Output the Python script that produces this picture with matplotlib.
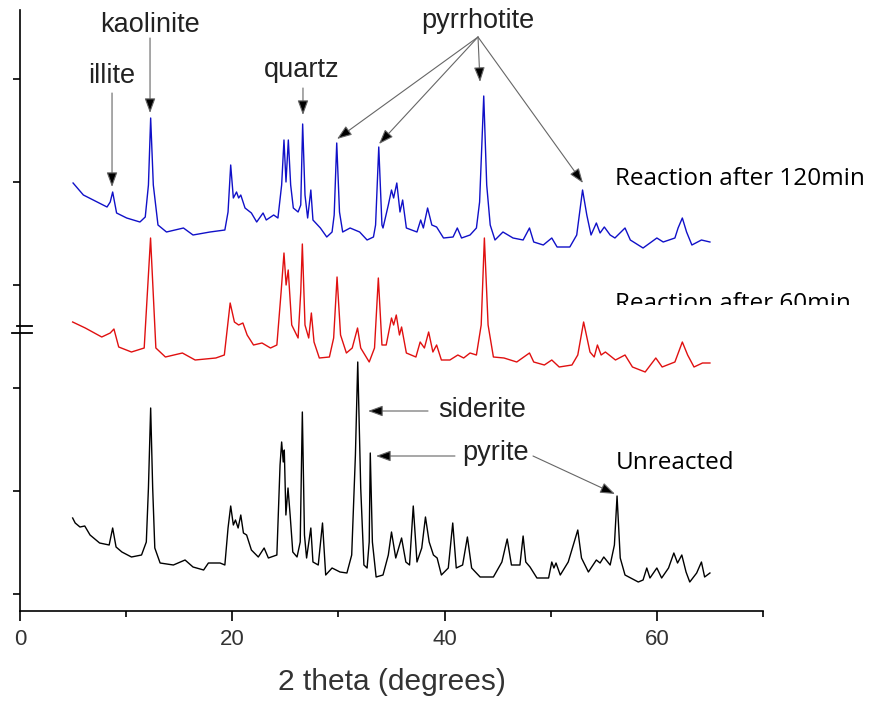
import matplotlib
matplotlib.use("Agg")
import matplotlib.pyplot as plt
from matplotlib.patches import ArrowStyle
from matplotlib.transforms import Bbox, TransformedBbox
from matplotlib.ticker import MultipleLocator

# 2 theta (degrees) and stacked intensity (a.u.)
tt_120 = [5.0, 5.97, 6.9, 8.2, 8.5, 8.73, 9.1, 10.05, 11.3, 11.8, 12.1, 12.31, 12.56, 13.0, 13.8,
          15.4, 16.3, 17.9, 19.3, 19.6, 19.85, 20.1, 20.4, 20.6, 20.8, 21.2, 21.8, 22.3, 22.9,
          23.2, 23.9, 24.3, 24.65, 24.87, 25.06, 25.28, 25.5, 25.75, 26.2, 26.45, 26.63, 26.85,
          27.1, 27.4, 27.6, 28.3, 28.9, 29.4, 29.6, 29.84, 30.1, 30.4, 31.1, 32.0, 32.7, 33.3,
          33.5, 33.8, 34.1, 34.2, 34.7, 35.0, 35.2, 35.5, 35.8, 36.05, 36.4, 37.4, 37.75, 38.0,
          38.4, 38.8, 39.25, 39.9, 40.8, 41.2, 41.6, 42.4, 43.0, 43.3, 43.69, 43.97, 44.3, 44.75,
          45.5, 46.45, 47.4, 48.0, 48.4, 49.3, 50.1, 50.6, 51.8, 52.45, 53.0, 53.4, 53.8, 54.3,
          54.65, 55.05, 55.6, 56.05, 57.0, 57.5, 58.7, 60.0, 60.6, 61.7, 62.0, 62.4, 62.8, 63.3,
          64.2, 65.0]
int_120 = [411, 399, 394, 387, 392, 402, 381, 376, 372, 377, 409, 476, 409, 369, 362,
           366, 359, 362, 364, 382, 429, 396, 402, 396, 399, 386, 381, 372, 381,
           374, 379, 376, 409, 454, 412, 454, 409, 386, 382, 389, 470, 399,
           376, 404, 374, 366, 357, 362, 379, 451, 382, 362, 366, 362, 354, 357,
           369, 447, 369, 366, 389, 404, 396, 411, 382, 394, 366, 362, 374, 366,
           386, 369, 367, 356, 357, 366, 356, 359, 366, 392, 498, 409, 369, 354,
           362, 356, 354, 366, 352, 349, 356, 347, 347, 359, 404, 379, 359, 371,
           361, 367, 359, 356, 366, 354, 346, 356, 352, 356, 366, 376, 362, 349,
           354, 352]

tt_60 = [4.96, 6.15, 7.7, 8.5, 8.85, 9.3, 10.5, 11.7, 12.3, 12.8, 13.7, 15.3, 16.5, 18.45,
         19.25, 19.8, 20.2, 20.6, 21.0, 21.4, 22.0, 22.8, 23.6, 24.2, 24.6, 24.87, 25.07,
         25.27, 25.6, 26.2, 26.45, 26.6, 26.85, 27.2, 27.45, 27.7, 28.2, 29.15, 29.55, 29.87,
         30.2, 30.75, 31.3, 31.8, 32.1, 32.9, 33.4, 33.76, 34.1, 34.5, 35.0, 35.2, 35.45,
         35.75, 35.95, 36.4, 37.3, 37.7, 38.1, 38.5, 38.9, 39.25, 39.7, 40.5, 41.25, 41.8,
         42.4, 43.0, 43.45, 43.75, 44.1, 44.6, 45.6, 46.8, 48.0, 48.4, 49.4, 50.1, 50.8,
         52.0, 52.55, 53.1, 53.7, 54.1, 54.4, 54.75, 55.15, 56.1, 57.0, 57.7, 58.9, 59.9,
         60.5, 61.7, 62.4, 62.9, 63.5, 64.3, 65.0]
int_60 = [272, 266, 257, 261, 265, 247, 242, 246, 356, 246, 237, 241, 234, 236,
          239, 291, 272, 269, 271, 259, 249, 251, 246, 249, 302, 341, 309,
          324, 269, 256, 302, 350, 269, 256, 281, 252, 236, 237, 256, 317,
          259, 241, 246, 266, 246, 232, 246, 316, 249, 249, 276, 269, 279,
          259, 267, 241, 237, 252, 246, 262, 242, 249, 234, 234, 239, 236,
          241, 239, 269, 356, 269, 237, 236, 232, 241, 232, 229, 234, 227,
          229, 239, 272, 242, 237, 249, 239, 242, 234, 239, 227, 222, 236,
          227, 232, 252, 239, 227, 231, 231]

tt_raw = [4.96, 5.2, 5.65, 6.1, 6.6, 7.5, 8.4, 8.73, 9.05, 9.6, 10.5, 11.45, 11.9, 12.1, 12.31,
          12.5, 12.7, 13.2, 14.45, 15.55, 16.3, 17.3, 17.75, 18.85, 19.3, 19.6, 19.85, 20.1,
          20.3, 20.55, 20.8, 21.05, 21.35, 21.8, 22.45, 23.0, 23.4, 24.2, 24.5, 24.65, 24.8,
          24.9, 25.05, 25.25, 25.45, 25.7, 26.1, 26.4, 26.6, 26.8, 27.0, 27.4, 27.6, 28.1,
          28.5, 28.8, 29.4, 30.15, 30.8, 31.25, 31.6, 31.82, 32.1, 32.4, 32.7, 32.9, 33.0,
          33.2, 33.55, 34.2, 34.7, 35.0, 35.4, 35.95, 36.35, 36.7, 37.05, 37.4, 37.85, 38.2,
          38.55, 38.95, 39.3, 39.7, 40.35, 40.77, 41.1, 41.7, 42.15, 42.55, 43.35, 44.6,
          45.4, 45.9, 46.3, 47.1, 47.4, 47.65, 48.05, 48.7, 49.8, 50.1, 50.3, 50.5, 50.9,
          51.65, 52.55, 52.9, 53.55, 54.3, 54.65, 55.0, 55.6, 56.0, 56.25, 56.55, 57.0,
          58.25, 58.7, 59.05, 59.35, 60.0, 60.45, 61.1, 61.6, 61.95, 62.35, 62.75, 63.1,
          63.75, 64.2, 64.5, 65.0]
int_raw = [76, 71, 67, 68, 59, 51, 49, 66, 47, 42, 37, 39, 52, 106, 186,
           106, 46, 31, 29, 34, 27, 24, 31, 31, 29, 66, 88, 69,
           74, 66, 79, 61, 59, 44, 37, 46, 36, 39, 129, 152, 132,
           144, 79, 106, 79, 42, 37, 52, 182, 59, 36, 66, 32, 29,
           71, 19, 26, 22, 21, 39, 139, 232, 106, 29, 26, 52, 141,
           52, 17, 19, 39, 62, 36, 56, 32, 29, 88, 32, 46, 77,
           52, 39, 36, 19, 26, 71, 26, 29, 57, 26, 17, 17,
           32, 55, 29, 29, 58, 32, 27, 16, 16, 32, 26, 31, 19,
           32, 64, 36, 22, 34, 31, 37, 29, 49, 98, 36, 19,
           12, 14, 26, 16, 26, 16, 26, 41, 31, 39, 22, 12,
           21, 32, 17, 21]

fig = plt.figure(figsize=(8.87, 7.05), dpi=100)
ax = fig.add_axes([20 / 887, 94 / 705, 743 / 887, 601 / 705])

ax.plot(tt_raw, int_raw, color="black", lw=1.0)
ax.plot(tt_60, int_60, color="#e01010", lw=1.0)
ax.plot(tt_120, int_120, color="#1010c8", lw=1.0)

ax.set_xlim(0, 70)
ax.set_ylim(-17, 584)
ax.xaxis.set_major_locator(MultipleLocator(20))
ax.xaxis.set_minor_locator(MultipleLocator(10))
ax.yaxis.set_major_locator(MultipleLocator(103))
ax.set_yticklabels([])
ax.spines[["top", "right"]].set_visible(False)
for s in ["left", "bottom"]:
    ax.spines[s].set_linewidth(1.2)
ax.tick_params(axis="x", which="major", length=7, width=1.2, pad=6,
               labelsize=16, labelcolor="#333333")
ax.tick_params(axis="x", which="minor", length=4, width=1.2)
ax.tick_params(axis="y", length=5, width=1.2)
for lab in ax.get_xticklabels():
    lab.set_family("Liberation Sans")
ax.set_xlabel("2 theta (degrees)", fontsize=21.5, family="Liberation Sans",
              color="#333333", labelpad=13)

# axis break mark on the left spine
ytr = ax.get_yaxis_transform()
ax.plot([-0.004, 0.016], [268, 268], color="black", lw=1.3, transform=ytr, clip_on=False)
ax.plot([-0.011, 0.016], [261, 261], color="black", lw=1.3, transform=ytr, clip_on=False)

# peak labels and arrows
afont = dict(fontsize=19.5, family="Liberation Sans", color="#222222")
head = ArrowStyle("-|>", head_length=0.6, head_width=0.22)
aprops = dict(arrowstyle=head, mutation_scale=15, lw=0.8, ec="#666666", fc="black",
              shrinkA=0, shrinkB=0)

def arrow(tip, tail):
    ax.annotate("", xy=tip, xytext=tail, arrowprops=aprops)

ax.text(12.25, 562, "kaolinite", ha="center", va="baseline", **afont)
arrow((12.25, 481), (12.25, 556))
ax.text(8.62, 511, "illite", ha="center", va="baseline", **afont)
arrow((8.67, 407), (8.67, 501))
ax.text(26.57, 517, "quartz", ha="center", va="baseline", **afont)
arrow((26.66, 479), (26.66, 506))
ax.text(43.1, 566, "pyrrhotite", ha="center", va="baseline", **afont)
for tip in [(29.87, 455), (33.82, 450), (43.34, 512), (53.04, 411)]:
    arrow(tip, (43.15, 557))
ax.text(39.38, 177, "siderite", ha="left", va="baseline", **afont)
arrow((32.79, 183), (38.44, 183))
ax.text(41.64, 134, "pyrite", ha="left", va="baseline", **afont)
arrow((33.54, 138), (40.98, 138))
arrow((56.06, 100), (48.33, 138))

# sample names
sfont = dict(fontsize=17.5, family="Open Sans", color="black", ha="left", va="baseline")
ax.text(56.15, 125, "Unreacted", **sfont)
ax.text(56.06, 409, "Reaction after 120min", **sfont)
t60 = ax.text(56.06, 284, "Reaction after 60min", **sfont)
t60.set_clip_box(TransformedBbox(Bbox([[50, 289], [120, 600]]), ax.transData))
t60.set_clip_on(True)

plt.savefig("out.png", dpi=100)
plt.close(fig)
